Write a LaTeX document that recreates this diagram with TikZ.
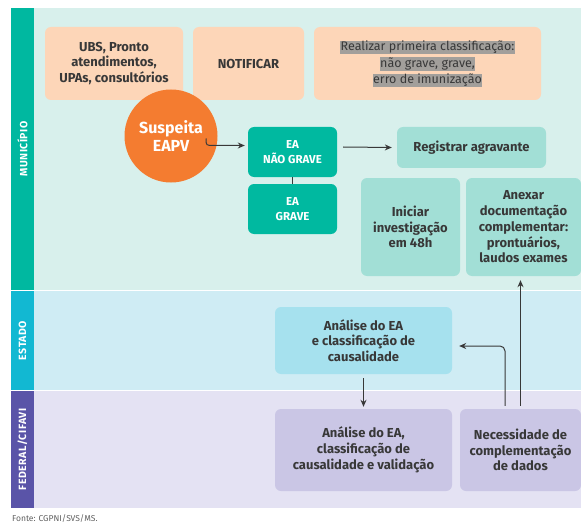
\documentclass[tikz,border=0pt]{standalone}
\usepackage{fontspec}
\setmainfont{Fira Sans}
\usetikzlibrary{arrows.meta,calc}
\definecolor{munbg}{HTML}{D8F0EC}
\definecolor{munstrip}{HTML}{00B8A0}
\definecolor{estbg}{HTML}{CFECF4}
\definecolor{eststrip}{HTML}{12B8D2}
\definecolor{fedbg}{HTML}{E4E2F3}
\definecolor{fedstrip}{HTML}{5A54A8}
\definecolor{peach}{HTML}{FDD6B8}
\definecolor{orangec}{HTML}{F47C30}
\definecolor{teal}{HTML}{00B9A0}
\definecolor{lteal}{HTML}{A2DFD6}
\definecolor{cyanbox}{HTML}{A6E1EE}
\definecolor{lilac}{HTML}{CAC6E5}
\definecolor{txt}{HTML}{383838}
\definecolor{hl}{HTML}{A29F9B}
\tikzset{
  box/.style={rounded corners=6pt, align=center, inner sep=0pt, text=txt,
    font=\bfseries\fontsize{13}{15.8}\selectfont},
  eabox/.style={box, fill=teal, text=white, font=\bfseries\fontsize{11.5}{15}\selectfont,
    minimum width=89pt, minimum height=50pt},
  lanelabel/.style={rotate=90, text=white, font=\bfseries\fontsize{10.5}{12}\selectfont\addfontfeatures{LetterSpace=5}},
  arr/.style={draw=txt, line width=1pt, -{Stealth[length=7pt,width=6pt]}},
  plain/.style={draw=txt, line width=1pt},
  hline/.style={fill=hl, inner sep=0.5pt, text=txt, font=\fontsize{12.5}{14}\selectfont}
}
\begin{document}
\begin{tikzpicture}[x=1pt,y=-1pt]
\useasboundingbox (0,0) rectangle (581,524);
% lanes
\fill[munbg] (11,8) rectangle (581,290);
\fill[estbg] (11,291) rectangle (581,390);
\fill[fedbg] (11,391) rectangle (581,508);
\fill[munstrip] (11,8) rectangle (34,290);
\fill[eststrip] (11,291) rectangle (34,390);
\fill[fedstrip] (11,391) rectangle (34,508);
\node[lanelabel] (lmun) at (22.5,149) {MUNICÍPIO};
\node[lanelabel] (lest) at (22.5,340.5) {ESTADO};
\node[lanelabel] (lfed) at (22.5,449.5) {FEDERAL/CIFAVI};
% top boxes
\node[box, fill=peach, minimum width=138pt, minimum height=73pt] (ubs) at (114,63.5)
  {UBS, Pronto\\atendimentos,\\UPAs, consultórios};
\node[box, fill=peach, minimum width=111pt, minimum height=73pt] (notif) at (248.5,63.5) {NOTIFICAR};
\node[box, fill=peach, minimum width=227pt, minimum height=73pt] (real) at (427.5,63.5) {};
\node[hline] (r1) at (427.5,47.5) {Realizar primeira classificação:};
\node[hline] (r2) at (427.5,64) {não grave, grave,};
\node[hline] (r3) at (427.5,80.5) {erro de imunização};
% suspicion circle
\node[circle, fill=orangec, minimum size=93pt, inner sep=0pt, align=center, text=white,
  font=\bfseries\fontsize{16}{18.5}\selectfont] (susp) at (171,136) {Suspeita\\EAPV};
% EA boxes
\node[eabox] (nao) at (292.5,152) {EA\\NÃO GRAVE};
\node[eabox] (grave) at (292.5,209) {EA\\GRAVE};
\node[box, fill=lteal, minimum width=149pt, minimum height=41pt] (reg) at (471.5,147.5) {Registrar agravante};
\node[box, fill=lteal, minimum width=99pt, minimum height=98pt] (inic) at (410.5,227) {Iniciar\\investigação\\em 48h};
\node[box, fill=lteal, minimum width=115pt, minimum height=98pt] (anex) at (523.5,227)
  {Anexar\\documentação\\complementar:\\prontuários,\\laudos exames};
% estado
\node[box, fill=cyanbox, minimum width=177pt, minimum height=67pt] (ana) at (363.5,340.5)
  {Análise do EA\\e classificação de\\causalidade};
% federal
\node[box, fill=lilac, minimum width=177pt, minimum height=82pt] (fed) at (363.5,450)
  {Análise do EA,\\classificação de\\causalidade e validação};
\node[box, fill=lilac, minimum width=121pt, minimum height=82pt] (nec) at (520.5,450)
  {Necessidade de\\complementação\\de dados};
% connectors
\coordinate (cs) at (206,138.5);
\draw[arr] (cs) .. controls (206,145.5) .. (214,145.5) -- ([xshift=-3pt,yshift=6.5pt]nao.west);
\draw[plain] (nao.south) -- (grave.north);
\draw[arr] ([xshift=6pt,yshift=5pt]nao.east) -- ([xshift=-5pt]reg.west);
\draw[arr] ([yshift=3pt]nec.north) -- ([yshift=-4pt]nec.north |- anex.south);
\draw[arr, rounded corners=5pt] ([xshift=-15.5pt,yshift=3pt]nec.north) |- ([xshift=7pt,yshift=-5.5pt]ana.east);
\draw[arr] ([yshift=-4pt]ana.south) -- ([yshift=2pt]fed.north);
% source
\node[anchor=west, text=txt!80, font=\fontsize{8.5}{9}\selectfont, inner sep=0pt] (src) at (12,519) {Fonte: CGPNI/SVS/MS.};
\end{tikzpicture}
\end{document}
